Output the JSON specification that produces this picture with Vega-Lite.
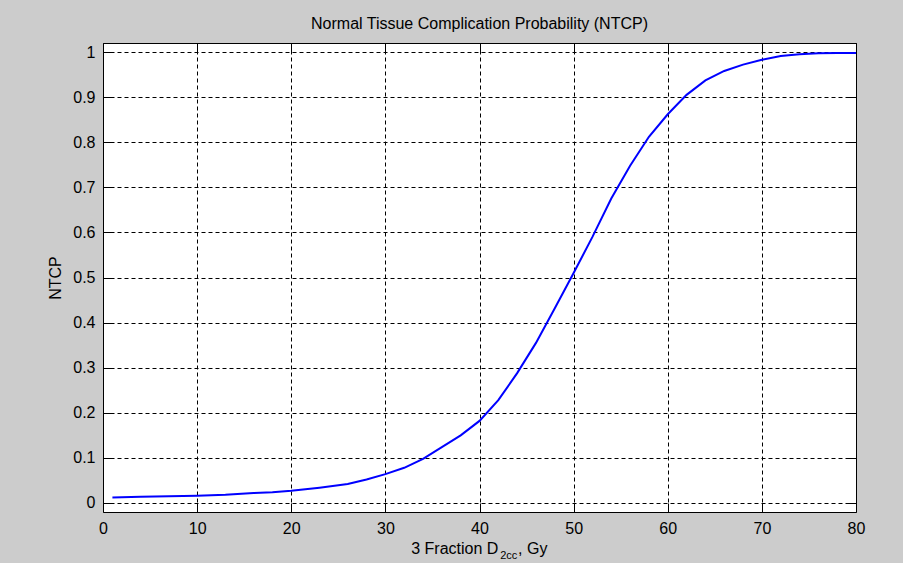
{
  "$schema": "https://vega.github.io/schema/vega-lite/v6.json",
  "width": 753,
  "height": 469,
  "autosize": "none",
  "padding": {"left": 103, "top": 43, "right": 47, "bottom": 51},
  "background": "#cccccc",
  "config": {
    "view": {"fill": "white", "stroke": "black", "strokeWidth": 1},
    "font": "Liberation Sans"
  },
  "title": {
    "text": "Normal Tissue Complication Probability (NTCP)",
    "fontSize": 16,
    "fontWeight": "normal",
    "font": "Liberation Sans",
    "color": "#000000",
    "anchor": "middle",
    "baseline": "alphabetic",
    "offset": -2
  },
  "data": {
    "values": [
      {"x": 1, "y": 0.012},
      {"x": 4, "y": 0.014},
      {"x": 7, "y": 0.015},
      {"x": 10, "y": 0.016},
      {"x": 13, "y": 0.018},
      {"x": 16, "y": 0.022},
      {"x": 18, "y": 0.024},
      {"x": 20, "y": 0.027},
      {"x": 23, "y": 0.034},
      {"x": 26, "y": 0.042},
      {"x": 28, "y": 0.052},
      {"x": 30, "y": 0.064},
      {"x": 32, "y": 0.078},
      {"x": 34, "y": 0.098},
      {"x": 36, "y": 0.124},
      {"x": 38, "y": 0.150},
      {"x": 40, "y": 0.182},
      {"x": 42, "y": 0.228},
      {"x": 44, "y": 0.288},
      {"x": 46, "y": 0.355},
      {"x": 48, "y": 0.432},
      {"x": 50, "y": 0.510},
      {"x": 52, "y": 0.590},
      {"x": 54, "y": 0.675},
      {"x": 56, "y": 0.748},
      {"x": 58, "y": 0.812},
      {"x": 60, "y": 0.862},
      {"x": 62, "y": 0.905},
      {"x": 64, "y": 0.937},
      {"x": 66, "y": 0.958},
      {"x": 68, "y": 0.972},
      {"x": 70, "y": 0.983},
      {"x": 72, "y": 0.991},
      {"x": 74, "y": 0.995},
      {"x": 76, "y": 0.997},
      {"x": 78, "y": 0.998},
      {"x": 80, "y": 0.998}
    ]
  },
  "layer": [
    {
      "mark": {"type": "line", "color": "#0000ff", "strokeWidth": 2},
      "encoding": {
        "x": {
          "field": "x",
          "type": "quantitative",
          "scale": {"domain": [0, 80], "nice": false, "zero": false},
          "axis": {
            "orient": "bottom",
            "values": [0, 10, 20, 30, 40, 50, 60, 70, 80],
            "title": null,
            "domain": false,
            "grid": true,
            "gridColor": "#000000",
            "gridDash": [4, 3],
            "gridOpacity": 1,
            "gridWidth": 1,
            "ticks": true,
            "tickSize": -9,
            "tickColor": "#000000",
            "tickWidth": 1,
            "labelPadding": 17,
            "labelFontSize": 16,
            "labelFont": "Liberation Sans",
            "labelColor": "#000000",
            "labelFlush": false,
            "labelOverlap": false
          }
        },
        "y": {
          "field": "y",
          "type": "quantitative",
          "scale": {"domain": [-0.02, 1.02], "nice": false, "zero": false},
          "axis": {
            "orient": "left",
            "values": [0, 0.1, 0.2, 0.3, 0.4, 0.5, 0.6, 0.7, 0.8, 0.9, 1],
            "format": "~g",
            "title": "NTCP",
            "titleFont": "Liberation Sans",
            "titleFontSize": 16,
            "titleFontWeight": "normal",
            "titleColor": "#000000",
            "titlePadding": 9,
            "domain": false,
            "grid": true,
            "gridColor": "#000000",
            "gridDash": [4, 3],
            "gridOpacity": 1,
            "gridWidth": 1,
            "ticks": true,
            "tickSize": -9,
            "tickColor": "#000000",
            "tickWidth": 1,
            "labelPadding": 17,
            "labelFontSize": 16,
            "labelFont": "Liberation Sans",
            "labelColor": "#000000",
            "labelFlush": false,
            "labelOverlap": false
          }
        }
      }
    },
    {
      "mark": {"type": "line", "strokeOpacity": 0},
      "encoding": {
        "x": {
          "field": "x",
          "type": "quantitative",
          "axis": {
            "orient": "top",
            "values": [0, 10, 20, 30, 40, 50, 60, 70, 80],
            "title": null,
            "labels": false,
            "domain": false,
            "grid": false,
            "tickSize": -9,
            "tickColor": "#000000",
            "tickWidth": 1
          }
        },
        "y": {
          "field": "y",
          "type": "quantitative",
          "axis": {
            "orient": "right",
            "values": [0, 0.1, 0.2, 0.3, 0.4, 0.5, 0.6, 0.7, 0.8, 0.9, 1],
            "title": null,
            "labels": false,
            "domain": false,
            "grid": false,
            "tickSize": -9,
            "tickColor": "#000000",
            "tickWidth": 1
          }
        }
      }
    },
    {
      "data": {"values": [{"t": "3 Fraction D"}]},
      "mark": {"type": "text", "align": "right", "baseline": "alphabetic", "dy": 42, "fontSize": 16, "font": "Liberation Sans", "color": "#000000"},
      "encoding": {
        "x": {"datum": 42.0, "type": "quantitative", "axis": null},
        "y": {"datum": -0.02, "type": "quantitative", "axis": null},
        "text": {"field": "t"}
      }
    },
    {
      "data": {"values": [{"t": "2cc"}]},
      "mark": {"type": "text", "align": "left", "baseline": "alphabetic", "dy": 47, "fontSize": 11, "font": "Liberation Sans", "color": "#000000"},
      "encoding": {
        "x": {"datum": 42.2, "type": "quantitative", "axis": null},
        "y": {"datum": -0.02, "type": "quantitative", "axis": null},
        "text": {"field": "t"}
      }
    },
    {
      "data": {"values": [{"t": ", Gy"}]},
      "mark": {"type": "text", "align": "left", "baseline": "alphabetic", "dy": 42, "fontSize": 16, "font": "Liberation Sans", "color": "#000000"},
      "encoding": {
        "x": {"datum": 44.1, "type": "quantitative", "axis": null},
        "y": {"datum": -0.02, "type": "quantitative", "axis": null},
        "text": {"field": "t"}
      }
    }
  ],
  "resolve": {"axis": {"x": "independent", "y": "independent"}}
}
